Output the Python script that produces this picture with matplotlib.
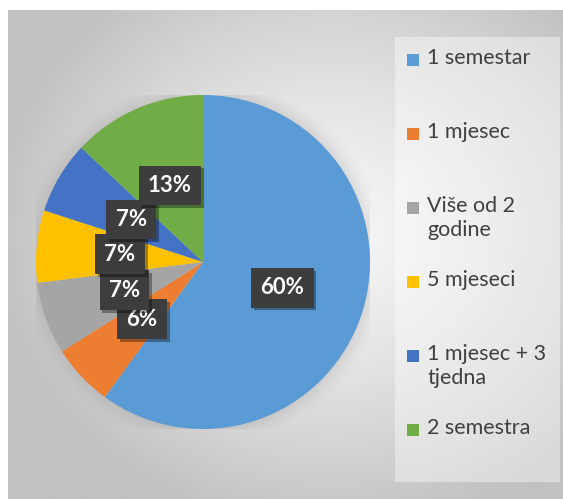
import textwrap

import numpy as np
import matplotlib
matplotlib.use("Agg")
import matplotlib.pyplot as plt
from matplotlib import patheffects as pe
from matplotlib.patches import Rectangle

plt.rcParams['font.family'] = ['Lato', 'DejaVu Sans']

categories = ["1 semestar", "1 mjesec", "Više od 2 godine", "5 mjeseci",
              "1 mjesec + 3 tjedna", "2 semestra"]
shares = [60, 6, 7, 7, 7, 13]
colors = ["#5B9BD5", "#ED7D31", "#A5A5A5", "#FFC000", "#4472C4", "#70AD47"]

W, H = 563, 499
fig = plt.figure(figsize=(W / 100, H / 100), dpi=100)
fig.patch.set_facecolor("white")

# radial grey background of the chart area
bg = fig.add_axes([8 / W, 0, 1 - 8 / W, 489 / H])
yy, xx = np.mgrid[0:200, 0:230]
cx, cy = 0.58 * 230, 0.45 * 200
d = np.hypot((xx - cx) / 230, (yy - cy) / 200)
d = np.clip(d / 0.62, 0, 1)
grad = 0.965 - 0.21 * d ** 1.3
bg.imshow(grad, cmap="gray", vmin=0, vmax=1, aspect="auto",
          extent=[0, 1, 0, 1], origin="upper", interpolation="bicubic")
bg.set_xlim(0, 1)
bg.set_ylim(0, 1)
bg.axis("off")

# soft glow behind the pie
glow = fig.add_axes([36 / W, 70 / H, 334 / W, 334 / H])
for r, a in zip(np.linspace(1.1, 1.0, 8), np.linspace(0.01, 0.05, 8)):
    glow.add_patch(plt.Circle((0, 0), r, color="#909090", alpha=a, lw=0))
glow.set_xlim(-1, 1)
glow.set_ylim(-1, 1)
glow.set_aspect("equal")
glow.axis("off")

ax = fig.add_axes([36 / W, 70 / H, 334 / W, 334 / H])
wedges, _, autotexts = ax.pie(
    shares, colors=colors, startangle=90, counterclock=False,
    autopct=lambda p: f"{p:.0f}%", pctdistance=0.5,
    wedgeprops=dict(linewidth=0))
ax.set_xlim(-1, 1)
ax.set_ylim(-1, 1)
ax.set_aspect("equal")

for t in autotexts:
    t.set_color("white")
    t.set_fontsize(16)
    t.set_fontweight("bold")
    t.set_bbox(dict(boxstyle="square,pad=0.42", fc="#3d3d3d", ec="none"))
    t.get_bbox_patch().set_path_effects(
        [pe.SimplePatchShadow(offset=(2, -2), shadow_rgbFace="black", alpha=0.35),
         pe.Normal()])

# legend panel
fig.patches.append(Rectangle((395 / W, 1 - 482 / H), 165 / W, 445 / H,
                             transform=fig.transFigure, fc="white",
                             alpha=0.4, ec="none"))

top = 60
step = 74
for i, (lab, col) in enumerate(zip(categories, colors)):
    y = top + i * step
    fig.patches.append(Rectangle((407 / W, 1 - (y + 6) / H), 12 / W, 12 / H,
                                 transform=fig.transFigure, fc=col, ec="none"))
    fig.text(427 / W, 1 - (y - 12) / H, textwrap.fill(lab, 12),
             ha="left", va="top", fontsize=15.5, color="#404040",
             linespacing=1.25)

fig.savefig("out.png", dpi=100)
